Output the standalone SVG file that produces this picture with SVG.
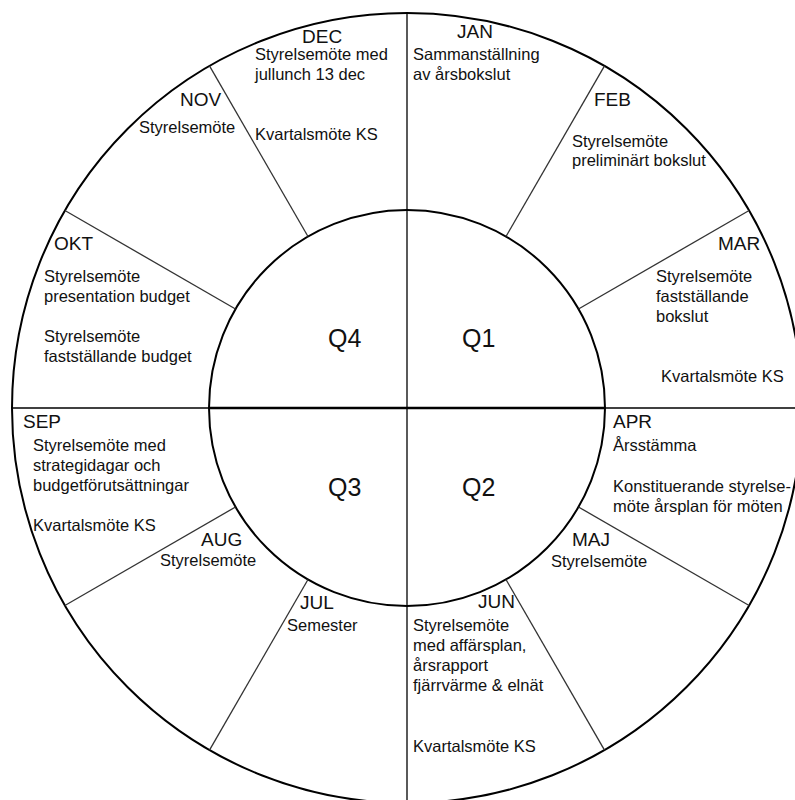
<svg xmlns="http://www.w3.org/2000/svg" width="795" height="800" viewBox="0 0 795 800">
<style>
text{font-family:"Liberation Sans",Arial,sans-serif;fill:#111}
.m{font-size:19px}
.t{font-size:16.5px}
.q{font-size:25px}
.ring{fill:none;stroke:#000;stroke-width:2}
.rad{stroke:#333;stroke-width:1.3}
.ax{stroke:#000;stroke-width:1.3}
</style>
<rect width="795" height="800" fill="#fff"/>
<g id="connectors">
<circle class="ring" cx="407" cy="408" r="395"/>
<circle class="ring" cx="407" cy="408" r="198" stroke-width="1.6"/>
<line class="ax" x1="407" y1="13" x2="407" y2="803"/>
<line class="ax" x1="12" y1="408" x2="802" y2="408"/>
<line x1="209" y1="408" x2="605" y2="408" stroke="#000" stroke-width="2.5"/>
<line class="rad" x1="506" y1="236.5" x2="604.5" y2="65.9"/>
<line class="rad" x1="578.5" y1="309" x2="749.1" y2="210.5"/>
<line class="rad" x1="578.5" y1="507" x2="749.1" y2="605.5"/>
<line class="rad" x1="506" y1="579.5" x2="604.5" y2="750.1"/>
<line class="rad" x1="308" y1="579.5" x2="209.5" y2="750.1"/>
<line class="rad" x1="235.5" y1="507" x2="64.9" y2="605.5"/>
<line class="rad" x1="235.5" y1="309" x2="64.9" y2="210.5"/>
<line class="rad" x1="308" y1="236.5" x2="209.5" y2="65.9"/>
</g>
<g id="q1"><text class="q" x="462" y="347">Q1</text></g>
<g id="q2"><text class="q" x="462" y="496">Q2</text></g>
<g id="q3"><text class="q" x="328" y="496">Q3</text></g>
<g id="q4"><text class="q" x="328" y="347">Q4</text></g>
<g id="jan">
<text class="m" x="457" y="38">JAN</text>
<text class="t" x="413" y="60">Sammanställning</text>
<text class="t" x="413" y="80">av årsbokslut</text>
</g>
<g id="feb">
<text class="m" x="594" y="106">FEB</text>
<text class="t" x="572" y="147">Styrelsemöte</text>
<text class="t" x="572" y="166">preliminärt bokslut</text>
</g>
<g id="mar">
<text class="m" x="718" y="250">MAR</text>
<text class="t" x="656" y="282">Styrelsemöte</text>
<text class="t" x="656" y="302">fastställande</text>
<text class="t" x="656" y="322">bokslut</text>
<text class="t" x="661" y="382">Kvartalsmöte KS</text>
</g>
<g id="apr">
<text class="m" x="613" y="428">APR</text>
<text class="t" x="613" y="451">Årsstämma</text>
<text class="t" x="613" y="492">Konstituerande styrelse-</text>
<text class="t" x="613" y="512">möte årsplan för möten</text>
</g>
<g id="maj">
<text class="m" x="572" y="546">MAJ</text>
<text class="t" x="551" y="567">Styrelsemöte</text>
</g>
<g id="jun">
<text class="m" x="478" y="608">JUN</text>
<text class="t" x="413" y="631">Styrelsemöte</text>
<text class="t" x="413" y="651">med affärsplan,</text>
<text class="t" x="413" y="671">årsrapport</text>
<text class="t" x="413" y="691">fjärrvärme &amp; elnät</text>
<text class="t" x="413" y="752">Kvartalsmöte KS</text>
</g>
<g id="jul">
<text class="m" x="300" y="609">JUL</text>
<text class="t" x="287" y="631">Semester</text>
</g>
<g id="aug">
<text class="m" x="201" y="546">AUG</text>
<text class="t" x="160" y="566">Styrelsemöte</text>
</g>
<g id="sep">
<text class="m" x="23" y="428">SEP</text>
<text class="t" x="33" y="451">Styrelsemöte med</text>
<text class="t" x="33" y="471">strategidagar och</text>
<text class="t" x="33" y="491">budgetförutsättningar</text>
<text class="t" x="33" y="531">Kvartalsmöte KS</text>
</g>
<g id="okt">
<text class="m" x="54" y="250">OKT</text>
<text class="t" x="44" y="282">Styrelsemöte</text>
<text class="t" x="44" y="302">presentation budget</text>
<text class="t" x="44" y="342">Styrelsemöte</text>
<text class="t" x="44" y="362">fastställande budget</text>
</g>
<g id="nov">
<text class="m" x="180" y="106">NOV</text>
<text class="t" x="139" y="133">Styrelsemöte</text>
</g>
<g id="dec">
<text class="m" x="302" y="43">DEC</text>
<text class="t" x="255" y="60">Styrelsemöte med</text>
<text class="t" x="255" y="80">jullunch 13 dec</text>
<text class="t" x="255" y="140">Kvartalsmöte KS</text>
</g>
</svg>
